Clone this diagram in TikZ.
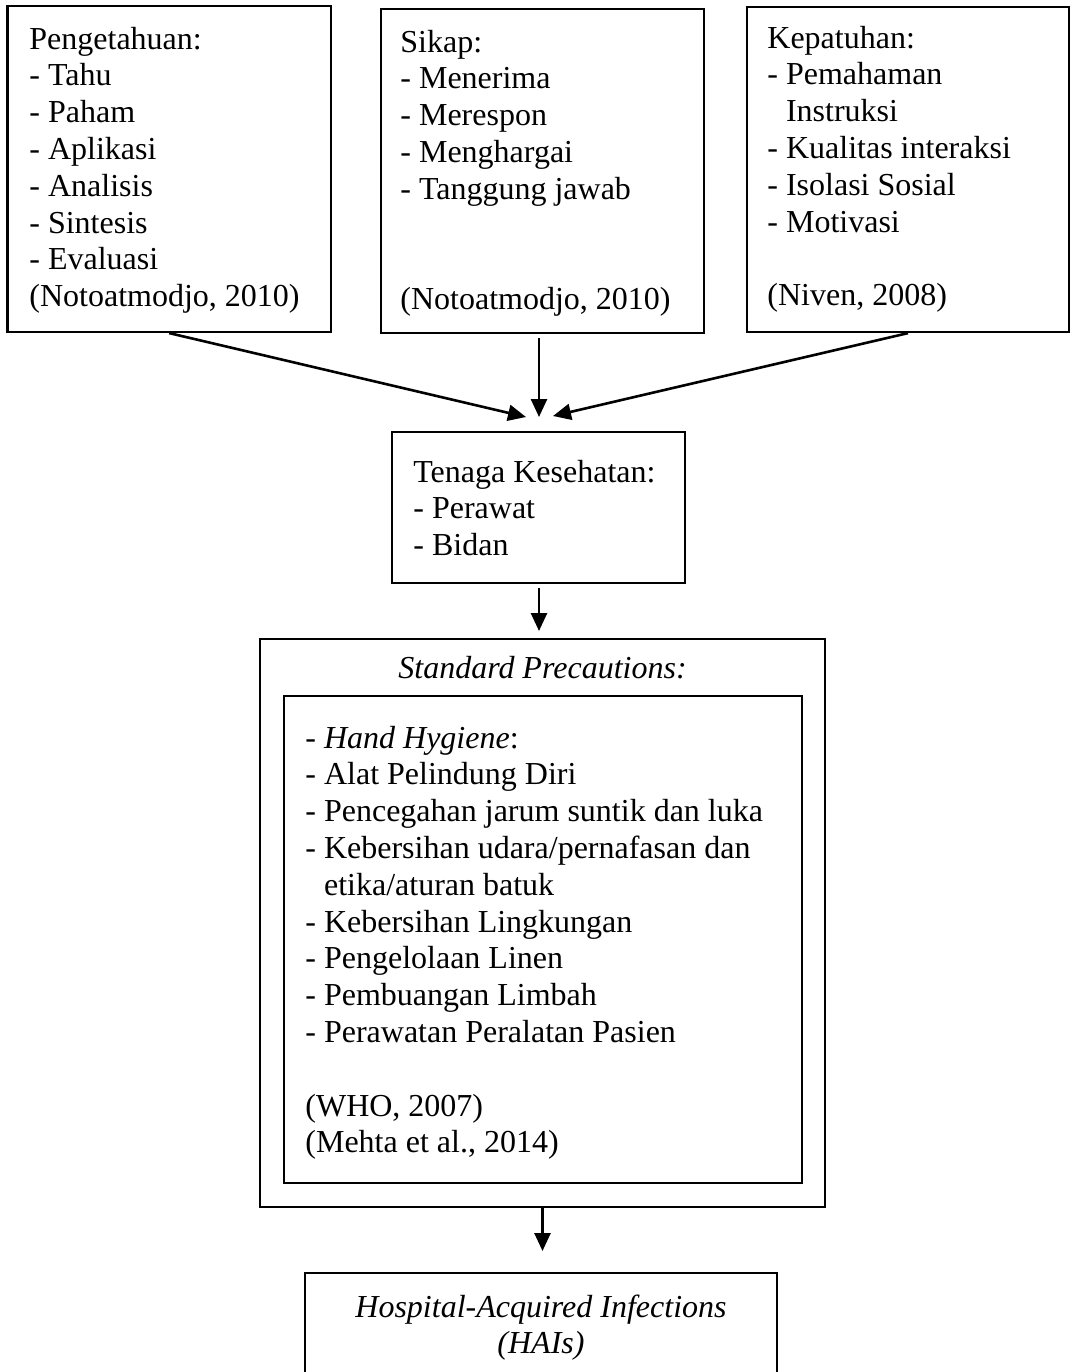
\documentclass[tikz,border=0pt]{standalone}
\usepackage{fontspec}
\setmainfont{Liberation Serif}
\usetikzlibrary{arrows.meta,fit}
\tikzset{
  box/.style={draw, line width=1.1pt, inner sep=0pt},
  txt/.style={anchor=base west, inner sep=0pt, font=\fontsize{16}{18.4}\selectfont},
  ctxt/.style={anchor=base, inner sep=0pt, font=\fontsize{16}{18.4}\selectfont},
  arr/.style={line width=1.3pt, -{Triangle[length=9pt,width=8pt]}},
}
\begin{document}
\begin{tikzpicture}[x=0.5pt, y=-0.5pt]
\clip (0,0) rectangle (1074,1372);
\fill[white] (0,0) rectangle (1074,1372);
% boxes
\node[box, fit={(7.5,6) (331,332)}] (b1) {};
\node[box, fit={(381,9) (704,333)}] (b2) {};
\node[box, fit={(747,7) (1069,332)}] (b3) {};
\node[box, fit={(392,432) (685,583)}] (b4) {};
\node[box, fit={(260,639) (825,1207)}] (sp) {};
\node[box, fit={(284,696) (802,1183)}] (spin) {};
\node[box, fit={(305,1273) (777,1400)}] (hai) {};
% texts
\node[txt] (t1) at (29,49) {\begin{tabular}[t]{@{}l@{}}Pengetahuan:\\- Tahu\\- Paham\\- Aplikasi\\- Analisis\\- Sintesis\\- Evaluasi\\(Notoatmodjo, 2010)\end{tabular}};
\node[txt] (t2) at (400,52) {\begin{tabular}[t]{@{}l@{}}Sikap:\\- Menerima\\- Merespon\\- Menghargai\\- Tanggung jawab\\ \\ \\(Notoatmodjo, 2010)\end{tabular}};
\node[txt] (t3) at (767,48) {\begin{tabular}[t]{@{}l@{}}Kepatuhan:\\- Pemahaman\\\hphantom{- }Instruksi\\- Kualitas interaksi\\- Isolasi Sosial\\- Motivasi\\ \\(Niven, 2008)\end{tabular}};
\node[txt] (t4) at (413,482) {\begin{tabular}[t]{@{}l@{}}Tenaga Kesehatan:\\- Perawat\\- Bidan\end{tabular}};
\node[ctxt] (t5) at (542.5,678) {\itshape Standard Precautions:};
\node[txt] (t6) at (305,748) {\begin{tabular}[t]{@{}l@{}}- \textit{Hand Hygiene}:\\- Alat Pelindung Diri\\- Pencegahan jarum suntik dan luka\\- Kebersihan udara/pernafasan dan\\\hphantom{- }etika/aturan batuk\\- Kebersihan Lingkungan\\- Pengelolaan Linen\\- Pembuangan Limbah\\- Perawatan Peralatan Pasien\\ \\(WHO, 2007)\\(Mehta et al., 2014)\end{tabular}};
\node[ctxt] (t7) at (541,1317) {\begin{tabular}[t]{@{}c@{}}\textit{Hospital-Acquired Infections}\\\textit{(HAIs)}\end{tabular}};
% arrow ends
\coordinate (e1) at (526,417);
\coordinate (e2) at (539,417);
\coordinate (e3) at (553,416);
\coordinate (s2) at (539,338);
\coordinate (s4) at (539,588);
\coordinate (e4) at (539,631);
\coordinate (e5) at (542.5,1251);
\draw[arr] (b1.south) -- (e1);
\draw[arr] (s2) -- (e2);
\draw[arr] (b3.south) -- (e3);
\draw[arr] (s4) -- (e4);
\draw[arr] (sp.south) -- (e5);
\end{tikzpicture}
\end{document}
